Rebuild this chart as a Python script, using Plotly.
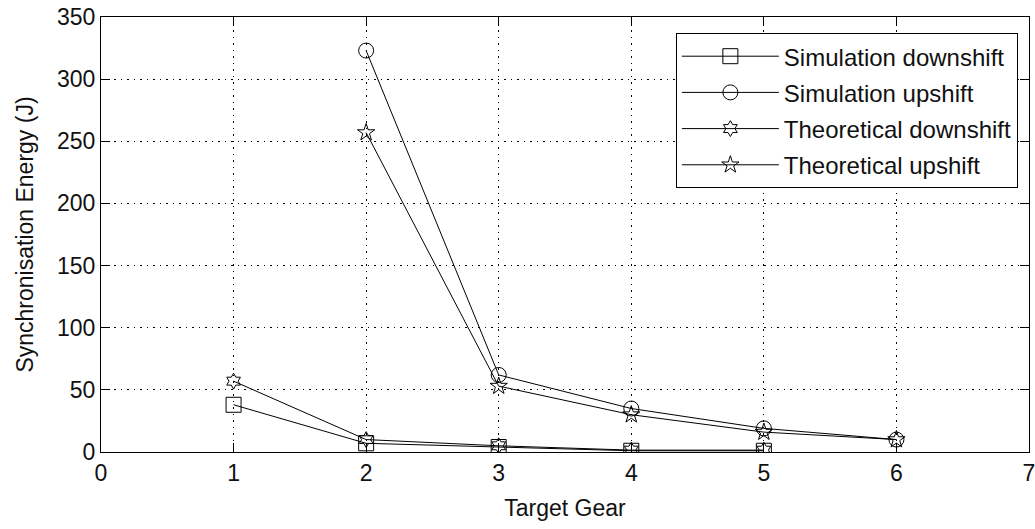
import plotly.graph_objects as go

# Target gear numbers and synchronisation energy (J) per shift type
gear_sim_down = [1, 2, 3, 4, 5]
energy_sim_down = [38, 7, 4, 1, 1]

gear_sim_up = [2, 3, 4, 5, 6]
energy_sim_up = [323, 62, 35, 19, 10]

gear_theo_down = [1, 2, 3, 4, 5]
energy_theo_down = [57, 10, 5, 1.5, 1.5]

gear_theo_up = [2, 3, 4, 5, 6]
energy_theo_up = [257, 53, 30, 16, 10]

x_ticks = [0, 1, 2, 3, 4, 5, 6, 7]
y_ticks = [0, 50, 100, 150, 200, 250, 300, 350]

FONT = "Liberation Sans, Arial, Helvetica, sans-serif"

series = [
    ("Simulation downshift", gear_sim_down, energy_sim_down, "square-open", 15),
    ("Simulation upshift", gear_sim_up, energy_sim_up, "circle-open", 15),
    ("Theoretical downshift", gear_theo_down, energy_theo_down, "hexagram-open", 12),
    ("Theoretical upshift", gear_theo_up, energy_theo_up, "star-open", 13),
]

fig = go.Figure()
for name, xs, ys, sym, size in series:
    fig.add_trace(go.Scatter(
        x=xs, y=ys, name=name, mode="lines+markers", legendgroup=name,
        line=dict(color="black", width=1),
        marker=dict(symbol=sym, size=size, color="black",
                    line=dict(color="black", width=1)),
    ))

axis_common = dict(
    showline=True, linecolor="black", linewidth=1, mirror="ticks",
    ticks="inside", ticklen=9, tickcolor="black", tickwidth=1,
    showgrid=True, gridcolor="black", gridwidth=1, griddash="1.5px,5px",
    zeroline=False, automargin=False, ticklabeloverflow="allow",
    tickfont=dict(family=FONT, size=23, color="#111"),
)

fig.update_xaxes(range=[0, 7], tickvals=x_ticks,
                 title=dict(text="Target Gear", font=dict(family=FONT, size=23, color="#111"),
                            standoff=15),
                 **axis_common)
fig.update_yaxes(range=[0, 350], tickvals=y_ticks,
                 title=dict(text="Synchronisation Energy (J)",
                            font=dict(family=FONT, size=23, color="#111"), standoff=16),
                 **axis_common)

fig.update_layout(
    width=1035, height=529,
    margin=dict(l=101, r=6, t=17, b=77),
    paper_bgcolor="white", plot_bgcolor="white",
    showlegend=True,
    legend=dict(
        x=0.988, y=0.963, xanchor="right", yanchor="top",
        bgcolor="white", bordercolor="black", borderwidth=1,
        font=dict(family=FONT, size=24, color="#111"),
        itemwidth=97, tracegroupgap=2,
    ),
)

fig.write_html("out.html")
